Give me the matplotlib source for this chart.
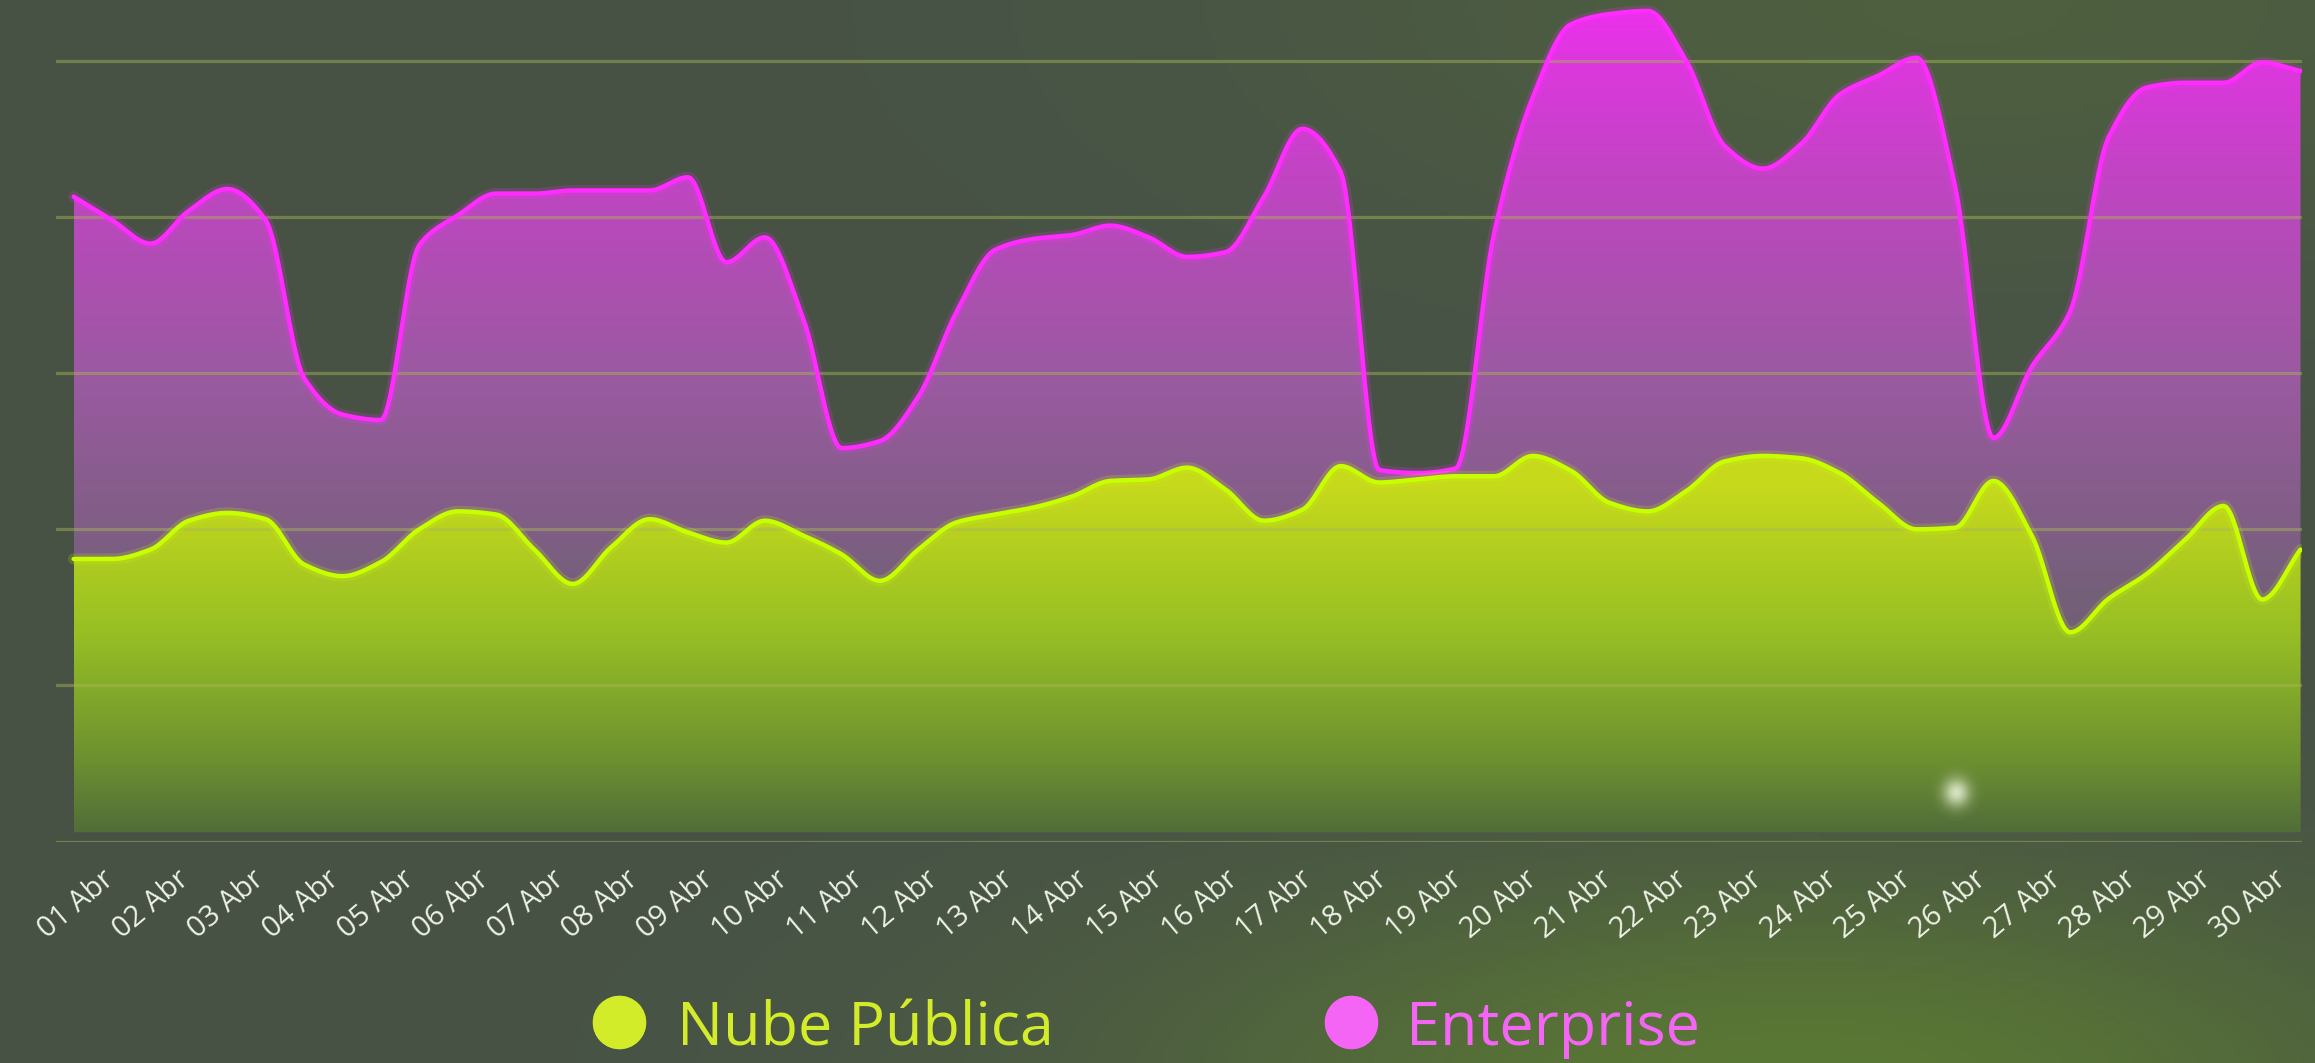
import numpy as np
import matplotlib
matplotlib.use("Agg")
import matplotlib.pyplot as plt
from matplotlib.patches import Polygon
from matplotlib.colors import LinearSegmentedColormap

# half-day samples, April 1-30
steps = np.arange(59) / 2

nube_publica = [36.2, 36.2, 37.4, 41.1, 42.1, 41.3, 35.5, 34.0, 35.8, 40.0,
                42.3, 41.9, 37.4, 33.0, 37.7, 41.3, 39.6, 38.3, 41.1, 39.2,
                36.8, 33.4, 37.4, 40.9, 41.9, 42.8, 44.2, 46.2, 46.4, 47.9,
                45.1, 41.1, 42.5, 48.1, 46.0, 46.4, 46.8, 46.8, 49.4, 47.5,
                43.4, 42.3, 44.9, 48.7, 49.4, 49.1, 47.2, 43.4, 40.0, 40.2,
                46.2, 39.2, 26.8, 31.1, 34.3, 38.7, 43.0, 31.0, 37.4]

enterprise = [82.6, 79.6, 76.6, 80.8, 83.6, 79.6, 59.4, 54.7, 54.0, 76.4,
              80.2, 83.0, 83.0, 83.4, 83.4, 83.4, 85.1, 74.2, 77.4, 67.0,
              50.4, 51.3, 57.0, 67.9, 75.8, 77.2, 77.7, 78.9, 77.4, 74.9,
              75.5, 82.6, 91.3, 85.8, 47.6, 47.2, 47.8, 78.0, 95.3, 104.7,
              106.0, 106.4, 100.0, 89.1, 86.2, 89.4, 95.7, 98.1, 100.4, 84.0,
              51.7, 60.8, 67.9, 90.2, 96.6, 97.2, 97.2, 99.8, 98.7]

labels = [f"{d:02d} Abr" for d in range(1, 31)]
series_names = ["Nube Pública", "Enterprise"]


def smooth(x, y, n=16):
    # monotone cubic (Fritsch-Carlson) curve through the points, drawing only
    x = np.asarray(x, float)
    y = np.asarray(y, float)
    h = np.diff(x)
    d = np.diff(y) / h
    m = np.zeros_like(y)
    m[0], m[-1] = d[0], d[-1]
    for i in range(1, len(y) - 1):
        if d[i - 1] * d[i] <= 0:
            m[i] = 0
        else:
            w1 = 2 * h[i] + h[i - 1]
            w2 = h[i] + 2 * h[i - 1]
            m[i] = (w1 + w2) / (w1 / d[i - 1] + w2 / d[i])
    xs, ys = [], []
    t = np.linspace(0, 1, n, endpoint=False)
    for i in range(len(y) - 1):
        h00 = 2 * t ** 3 - 3 * t ** 2 + 1
        h10 = t ** 3 - 2 * t ** 2 + t
        h01 = -2 * t ** 3 + 3 * t ** 2
        h11 = t ** 3 - t ** 2
        xs.append(x[i] + t * h[i])
        ys.append(h00 * y[i] + h10 * h[i] * m[i] + h01 * y[i + 1] + h11 * h[i] * m[i + 1])
    xs.append([x[-1]])
    ys.append([y[-1]])
    return np.concatenate(xs), np.concatenate(ys)


def gradient_area(ax, x, y, cmap, ytop, zorder, base=1.2):
    xs, ys = smooth(x, y)
    verts = np.column_stack([np.r_[xs[0], xs, xs[-1]], np.r_[base, ys, base]])
    patch = Polygon(verts, closed=True, facecolor="none", edgecolor="none")
    ax.add_patch(patch)
    grad = np.linspace(0, 1, 256).reshape(-1, 1)
    im = ax.imshow(grad, cmap=cmap, extent=[xs[0], xs[-1], 0, ytop], origin="lower",
                   aspect="auto", zorder=zorder, interpolation="bicubic")
    im.set_clip_path(patch)
    return xs, ys


fig = plt.figure(figsize=(23.15, 10.63), dpi=100)

# background with a soft green glow
bg_ax = fig.add_axes([0, 0, 1, 1], zorder=-10)
H, W = 200, 430
yy, xx = np.mgrid[0:1:H * 1j, 0:1:W * 1j]
base_c = np.array([71, 82, 70]) / 255
glow = np.array([90, 120, 52]) / 255
g = np.exp(-(((xx - 0.78) / 0.28) ** 2 + ((yy - 1.02) / 0.2) ** 2))
g2 = 0.35 * np.exp(-(((xx - 0.85) / 0.3) ** 2 + ((yy - 0.0) / 0.25) ** 2))
w = np.clip(g + g2, 0, 1)[..., None]
bg = base_c * (1 - w) + glow * w
bg_ax.imshow(bg, extent=[0, 1, 0, 1], aspect="auto", origin="upper")
bg_ax.axis("off")

ax = fig.add_axes([0.0242, 0.2083, 0.9702, 0.7917])
ax.patch.set_alpha(0)
ytop = 107.8

mag_cmap = LinearSegmentedColormap.from_list(
    "mag", [(0.0, "#5e5a5e"), (0.3, "#75607a"), (0.55, "#9a5aa0"), (0.8, "#c244c4"), (1.0, "#ec30ec")])
grn_cmap = LinearSegmentedColormap.from_list(
    "grn", [(0.0, "#4f6a3a"), (0.1, "#6e9230"), (0.25, "#98c024"), (0.42, "#c6d91c"), (1.0, "#d8e018")])

mx, my = gradient_area(ax, steps, enterprise, mag_cmap, ytop, 1)
gx, gy = gradient_area(ax, steps, nube_publica, grn_cmap, ytop, 2)

for v in range(0, 101, 20):
    ax.axhline(v, color="#a8b855", alpha=0.45, lw=2.3, zorder=3)

ax.plot(mx, my, color="#ff2bff", lw=8, alpha=0.18, zorder=4, solid_capstyle="round")
ax.plot(mx, my, color="#ff2bff", lw=3.2, zorder=4.5, solid_capstyle="round")
ax.plot(gx, gy, color="#c8ff00", lw=8, alpha=0.18, zorder=5, solid_capstyle="round")
ax.plot(gx, gy, color="#c8ff00", lw=3.2, zorder=5.5, solid_capstyle="round")

# faint light spot
sy, sx = np.mgrid[-1:1:80j, -1:1:80j]
spot = np.zeros((80, 80, 4))
spot[..., :3] = np.array([236, 244, 218]) / 255
spot[..., 3] = 0.85 * np.exp(-((sx / 0.42) ** 2 + (sy / 0.5) ** 2))
ax.imshow(spot, extent=[0.832, 0.860, 0.025, 0.092], transform=ax.transAxes,
          aspect="auto", zorder=6, interpolation="bilinear")

ax.set_xlim(-0.23, 29.02)
ax.set_ylim(0, ytop)
label_pos = 0.365 + 0.975 * np.arange(30)
ax.set_xticks(label_pos)
ax.set_xticklabels(labels, rotation=40, ha="right", rotation_mode="anchor",
                   family="Open Sans", fontsize=21, color="#eef2e6")
ax.tick_params(axis="x", length=0, pad=17)
ax.set_yticks([])
for sp in ax.spines.values():
    sp.set_visible(False)

# legend
fig.text(0.2924, 0.0165, series_names[0], family="Open Sans", fontsize=44,
         color="#d2ec2a", va="baseline", ha="left")
fig.text(0.6073, 0.0165, series_names[1], family="Open Sans", fontsize=44,
         color="#f565f5", va="baseline", ha="left")
fig.add_artist(plt.scatter([0.2674], [0.0385], s=1400, color="#d2ec2a",
                           transform=fig.transFigure, clip_on=False))
fig.add_artist(plt.scatter([0.5836], [0.0385], s=1400, color="#f565f5",
                           transform=fig.transFigure, clip_on=False))

fig.savefig("out.png", dpi=100)
